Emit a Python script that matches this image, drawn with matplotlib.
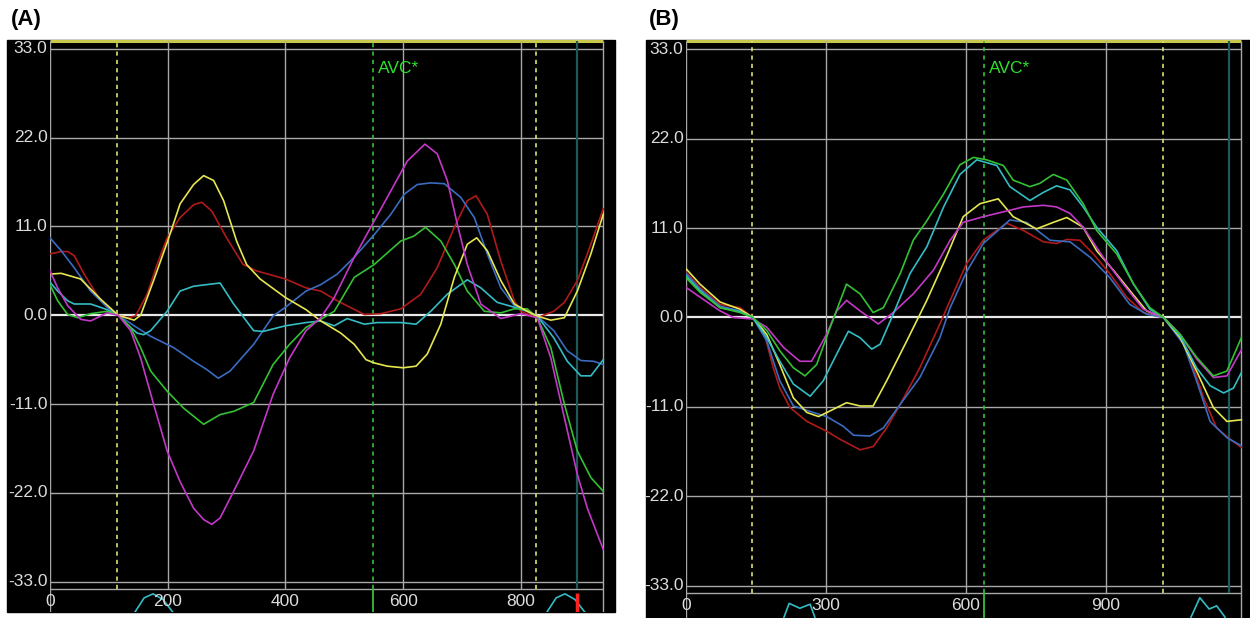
import matplotlib
matplotlib.use("Agg")
import matplotlib.pyplot as plt
from matplotlib.patches import Rectangle

# ------------------------
# Data
# ------------------------

# panel A: time (ms) / strain (%)
A_T_YELLOW = [0, 19, 52, 86, 116, 143, 154, 176, 200, 221, 244, 261, 278, 295, 317, 334, 357, 400, 435, 460,
              494, 517, 537, 551, 573, 600, 622, 641, 664, 687, 709, 725, 743, 766, 789, 811, 828, 851, 874, 896,
              919, 940]
A_YELLOW = [5.1, 5.2, 4.5, 2.0, 0.0, -0.6, 0.0, 4.3, 9.2, 13.8, 16.2, 17.3, 16.7, 14.2, 9.2, 6.3, 4.5, 2.2, 0.7, -0.7,
            -2.2, -3.6, -5.5, -5.9, -6.3, -6.5, -6.3, -4.8, -1.1, 4.7, 8.8, 9.6, 8.0, 4.3, 1.4, 0.5, -0.1, -0.6, -0.3, 3.0,
            7.6, 12.5]

A_T_RED = [0, 19, 30, 41, 58, 86, 116, 131, 145, 165, 182, 199, 221, 244, 258, 275, 300, 328, 351, 400,
           435, 460, 488, 534, 562, 596, 630, 658, 687, 709, 724, 743, 766, 789, 800, 828, 856, 874, 896, 919, 940]
A_RED = [7.6, 7.9, 7.9, 7.4, 5.1, 1.8, 0.0, -0.3, -0.1, 2.6, 6.3, 9.6, 12.1, 13.7, 14.0, 12.9, 9.6, 6.3, 5.5, 4.5,
         3.4, 3.0, 1.8, 0.1, 0.2, 0.8, 2.6, 5.9, 10.9, 14.2, 14.8, 12.5, 6.7, 1.8, 0.5, -0.3, 0.5, 1.6, 4.3, 8.8, 13.2]

A_T_BLUE = [0, 19, 41, 69, 97, 116, 143, 171, 210, 244, 266, 286, 306, 346, 379, 400, 435, 460, 488, 517,
            551, 579, 602, 624, 647, 670, 698, 721, 743, 766, 789, 811, 828, 856, 879, 902, 924, 940]
A_BLUE = [9.6, 8.0, 5.9, 3.0, 1.0, 0.0, -1.3, -2.6, -4.0, -5.7, -6.7, -7.8, -6.9, -3.6, -0.1, 1.0, 3.0, 3.8, 5.1, 7.2,
          10.0, 12.5, 15.0, 16.2, 16.4, 16.3, 14.6, 12.1, 7.6, 3.4, 1.2, 0.5, -0.1, -1.9, -4.4, -5.6, -5.7, -6.1]

A_T_CYAN = [0, 13, 30, 41, 69, 97, 116, 131, 148, 159, 171, 199, 221, 244, 266, 289, 312, 346, 362, 400,
            435, 460, 483, 505, 534, 556, 596, 622, 647, 675, 709, 732, 760, 789, 811, 828, 856, 879, 902, 919, 940]
A_CYAN = [4.1, 3.0, 1.8, 1.4, 1.4, 0.7, 0.0, -1.1, -2.2, -2.4, -1.9, 0.5, 3.0, 3.6, 3.8, 4.0, 1.4, -1.9, -2.0, -1.3,
          -0.9, -0.7, -1.3, -0.4, -1.1, -0.9, -0.9, -1.1, 0.5, 2.6, 4.4, 3.4, 1.6, 1.0, 0.5, -0.1, -2.8, -5.7, -7.5, -7.5,
          -5.5]

A_T_GREEN = [0, 13, 30, 47, 69, 97, 116, 137, 154, 171, 199, 227, 261, 289, 312, 346, 379, 407, 435, 460,
             483, 517, 551, 596, 618, 638, 664, 687, 709, 738, 766, 789, 811, 828, 851, 874, 896, 919, 940]
A_GREEN = [3.8, 1.8, 0.1, -0.3, 0.2, 0.5, 0.0, -1.5, -4.0, -6.9, -9.4, -11.5, -13.5, -12.3, -11.9, -10.8, -6.1, -3.6,
           -1.5, -0.5, 0.5, 4.7, 6.3, 9.2, 9.8, 10.9, 9.2, 6.3, 3.0, 0.5, 0.3, 0.8, 0.8, -0.3, -4.0, -11.0, -16.8, -20.1,
           -21.8]

A_T_MAGENTA = [0, 13, 30, 52, 69, 97, 116, 137, 154, 176, 199, 221, 244, 261, 275, 289, 312, 346, 379, 407,
               435, 460, 483, 517, 551, 579, 607, 637, 658, 675, 692, 709, 732, 766, 800, 828, 851, 874, 896, 913, 940]
A_MAGENTA = [5.5, 3.4, 1.2, -0.5, -0.7, 0.3, 0.0, -1.9, -5.3, -11.0, -16.8, -20.6, -23.9, -25.3, -25.9, -25.1, -21.8,
             -16.8, -9.8, -5.3, -1.9, -0.3, 2.2, 7.2, 11.7, 15.4, 19.1, 21.2, 20.0, 16.7, 11.3, 6.3, 1.4, -0.4, 0.2, -0.3,
             -5.3, -12.7, -19.7, -23.9, -29.0]

# ECG snippets shown under the time axis
A_T_ECG1 = [144, 160, 175, 192, 209]
A_T_ECG2 = [844, 860, 875, 892, 909]
A_ECG = [-36.8, -35.0, -34.5, -35.2, -36.8]

# panel B
B_T_RED = [0, 30, 73, 116, 143, 166, 187, 201, 223, 259, 301, 330, 373, 401, 430, 459, 501, 544, 566, 601,
           637, 687, 723, 766, 794, 816, 844, 873, 908, 944, 980, 1023, 1051, 1080, 1109, 1137, 1166, 1190]
B_RED = [5.6, 3.7, 1.6, 1.2, 0.0, -1.6, -6.2, -8.7, -11.1, -12.8, -14.0, -15.0, -16.3, -15.9, -13.6, -10.7, -6.2,
         -0.8, 2.1, 6.6, 9.5, 11.6, 10.7, 9.3, 9.1, 9.6, 9.5, 7.8, 5.4, 2.5, 0.6, 0.0, -1.6, -4.9, -9.9, -13.6, -15.0,
         -16.0]

B_T_BLUE = [0, 30, 73, 116, 143, 173, 201, 230, 273, 301, 337, 359, 394, 423, 459, 501, 544, 566, 601, 637,
            694, 730, 780, 823, 866, 908, 951, 987, 1023, 1066, 1094, 1123, 1159, 1190]
B_BLUE = [5.4, 3.5, 1.4, 0.8, 0.0, -2.9, -7.8, -10.9, -11.7, -12.2, -13.4, -14.5, -14.6, -13.6, -10.7, -7.4, -2.5,
          1.2, 5.6, 9.1, 12.0, 11.7, 9.5, 9.3, 7.4, 4.9, 1.6, 0.4, 0.0, -3.3, -7.8, -12.8, -14.8, -15.8]

B_T_YELLOW = [0, 30, 73, 116, 143, 173, 201, 230, 259, 284, 309, 344, 373, 401, 430, 473, 516, 559, 594, 630,
              669, 701, 751, 787, 816, 851, 880, 916, 951, 987, 1023, 1059, 1094, 1130, 1159, 1190]
B_YELLOW = [6.0, 4.1, 1.9, 1.0, 0.0, -2.1, -5.8, -9.9, -11.7, -12.2, -11.5, -10.5, -10.9, -10.9, -7.8, -2.9, 2.1,
            7.6, 12.4, 14.0, 14.6, 12.4, 10.9, 11.7, 12.3, 11.1, 8.2, 5.8, 3.3, 0.8, 0.0, -2.5, -6.6, -11.1, -12.8,
            -12.6]

B_T_GREEN = [0, 30, 73, 116, 143, 173, 201, 230, 255, 280, 309, 344, 373, 401, 423, 459, 487, 516, 552, 587,
             616, 644, 680, 701, 737, 758, 787, 816, 851, 880, 923, 959, 994, 1023, 1059, 1094, 1130, 1159, 1190]
B_GREEN = [4.9, 3.1, 1.2, 0.6, 0.0, -1.6, -4.1, -6.2, -7.2, -5.8, -1.2, 4.1, 2.9, 0.6, 1.2, 5.4, 9.5, 11.9, 15.2,
           18.8, 19.7, 19.4, 18.7, 16.9, 16.1, 16.5, 17.6, 16.9, 14.0, 10.7, 7.8, 4.1, 1.2, 0.0, -2.1, -4.9, -7.2, -6.6,
           -2.5]

B_T_CYAN = [0, 30, 73, 116, 143, 173, 201, 230, 266, 294, 323, 348, 373, 398, 416, 444, 480, 516, 552, 587,
            623, 666, 694, 737, 766, 794, 823, 851, 880, 923, 959, 994, 1023, 1059, 1094, 1123, 1152, 1173, 1190]
B_CYAN = [5.1, 3.3, 1.2, 0.7, 0.0, -2.5, -5.4, -8.2, -9.7, -7.8, -4.5, -1.7, -2.5, -3.9, -3.3, 0.4, 5.4, 8.7, 13.6,
          17.6, 19.4, 18.7, 16.1, 14.4, 15.4, 16.2, 15.7, 13.6, 11.1, 8.2, 4.1, 1.0, 0.0, -2.3, -6.2, -8.4, -9.3, -8.7,
          -6.8]

B_T_MAGENTA = [0, 30, 73, 101, 143, 173, 209, 244, 269, 301, 323, 344, 373, 412, 444, 487, 530, 566, 594, 637,
               680, 723, 766, 794, 823, 851, 894, 937, 980, 1023, 1059, 1094, 1130, 1159, 1190]
B_MAGENTA = [3.7, 2.5, 0.8, 0.0, -0.2, -1.2, -3.7, -5.4, -5.4, -2.1, 0.8, 2.1, 0.8, -0.8, 0.6, 2.9, 5.8, 9.5, 11.7,
             12.4, 13.0, 13.6, 13.8, 13.6, 12.8, 11.1, 7.4, 4.1, 1.0, 0.0, -2.1, -5.1, -7.4, -7.2, -4.0]

B_T_ECG1 = [210, 221, 244, 266, 276]
B_ECG1 = [-36.9, -35.2, -35.8, -35.3, -36.9]
B_T_ECG2 = [1082, 1101, 1121, 1137, 1155]
B_ECG2 = [-36.9, -34.5, -35.9, -35.5, -36.9]

Y_TICKS = [33.0, 22.0, 11.0, 0.0, -11.0, -22.0, -33.0]
Y_LABELS = ["33.0", "22.0", "11.0", "0.0", "-11.0", "-22.0", "-33.0"]
A_XTICKS = [0, 200, 400, 600, 800]
B_XTICKS = [0, 300, 600, 900]

# event markers (ms)
A_EVENTS = {"start": 114, "avc": 549, "end": 825, "cursor": 896}
B_EVENTS = {"start": 142, "avc": 639, "end": 1022, "cursor": 1163}

COLORS = {
    "red": "#b01a1a",
    "yellow": "#e6e650",
    "blue": "#3a6cc0",
    "cyan": "#34bcc4",
    "green": "#34c034",
    "magenta": "#c438c8",
}
GRID = "#a8a8a8"
FONT = "Liberation Sans"


# ------------------------
# Panel renderer
# ------------------------

def draw_panel(ax, curves, xticks, t_end, events, ylim, xlim, ecgs, red_mark=False):
    ax.set_xlim(*xlim)
    ax.set_ylim(*ylim)
    ax.set_axis_off()

    top = 34.0
    bottom = -33.95

    # frame + grid
    ax.hlines([v for v in Y_TICKS if v != 0], 0, t_end, color=GRID, lw=1.0, zorder=1)
    ax.hlines(0, 0, t_end, color="#e8e8e8", lw=1.6, zorder=1)
    ax.hlines(bottom, 0, t_end, color=GRID, lw=1.0, zorder=1)
    ax.hlines(top, 0, t_end, color="#c8c84a", lw=2.2, zorder=1)
    ax.vlines(xticks[1:], bottom, top, color=GRID, lw=1.0, zorder=1)
    ax.vlines([0, t_end], ylim[0], top, color=GRID, lw=1.0, zorder=1)

    # event lines
    ax.vlines([events["start"], events["end"]], bottom, top, color="#e0e070",
              lw=1.2, linestyles=(0, (2.5, 2.5)), zorder=2)
    ax.vlines(events["avc"], bottom, top, color="#36c036", lw=1.2,
              linestyles=(0, (2.5, 2.5)), zorder=2)
    ax.vlines(events["avc"], ylim[0], bottom, color="#36c036", lw=1.3, zorder=2)
    ax.vlines(events["cursor"], bottom, top, color="#1e5858", lw=1.6, zorder=2)
    if red_mark:
        ax.vlines(events["cursor"], ylim[0], -34.4, color="#ff2020", lw=2.5, zorder=4)

    ax.text(events["avc"] + 8 * (xlim[1] / 960), 30.6, "AVC*", color="#2ee02e",
            fontsize=12.5, family=FONT, va="center", ha="left")

    for name, (t, v) in curves.items():
        ax.plot(t, v, color=COLORS[name], lw=1.2, zorder=3)

    for t, v in ecgs:
        ax.plot(t, v, color=COLORS["cyan"], lw=1.2, zorder=3, clip_on=True)

    # tick labels
    px = (xlim[1] - xlim[0]) / ax.bbox.width
    for v, lab in zip(Y_TICKS, Y_LABELS):
        ax.text(-2.5 * px, v, lab, color="#dcdcdc", fontsize=12.5, family=FONT,
                ha="right", va="center", clip_on=False)
    for t in xticks:
        ax.text(t, -35.45, str(t), color="#dcdcdc", fontsize=12.5, family=FONT,
                ha="center", va="center", clip_on=False)


# ------------------------
# Main
# ------------------------

if __name__ == "__main__":
    W, H = 1250, 618
    fig = plt.figure(figsize=(W / 100, H / 100), dpi=100)
    fig.patch.set_facecolor("white")

    # black screen areas behind each panel (pixel boxes -> figure fraction)
    fig.patches.append(Rectangle((7 / W, 1 - 612 / H), 608 / W, 572 / H,
                                 transform=fig.transFigure, color="black", zorder=-5))
    fig.patches.append(Rectangle((646 / W, 0), 604 / W, 578 / H,
                                 transform=fig.transFigure, color="black", zorder=-5))

    ax_a = fig.add_axes([50 / W, 1 - 612 / H, 565 / W, 572 / H], zorder=2)
    ax_b = fig.add_axes([686 / W, 0, 564 / W, 578 / H], zorder=2)

    curves_a = {
        "red": (A_T_RED, A_RED),
        "blue": (A_T_BLUE, A_BLUE),
        "cyan": (A_T_CYAN, A_CYAN),
        "green": (A_T_GREEN, A_GREEN),
        "yellow": (A_T_YELLOW, A_YELLOW),
        "magenta": (A_T_MAGENTA, A_MAGENTA),
    }
    curves_b = {
        "red": (B_T_RED, B_RED),
        "blue": (B_T_BLUE, B_BLUE),
        "yellow": (B_T_YELLOW, B_YELLOW),
        "magenta": (B_T_MAGENTA, B_MAGENTA),
        "cyan": (B_T_CYAN, B_CYAN),
        "green": (B_T_GREEN, B_GREEN),
    }

    draw_panel(ax_a, curves_a, A_XTICKS, 940, A_EVENTS, (-36.75, 34.1), (0, 960),
               [(A_T_ECG1, A_ECG), (A_T_ECG2, A_ECG)], red_mark=True)
    draw_panel(ax_b, curves_b, B_XTICKS, 1190, B_EVENTS, (-37.0, 34.15), (0, 1208.5),
               [(B_T_ECG1, B_ECG1), (B_T_ECG2, B_ECG2)])

    fig.text(11 / W, 1 - 20 / H, "(A)", fontsize=16, fontweight="bold", family=FONT,
             ha="left", va="center")
    fig.text(649 / W, 1 - 20 / H, "(B)", fontsize=16, fontweight="bold", family=FONT,
             ha="left", va="center")

    fig.savefig("out.png", dpi=100, facecolor="white")
